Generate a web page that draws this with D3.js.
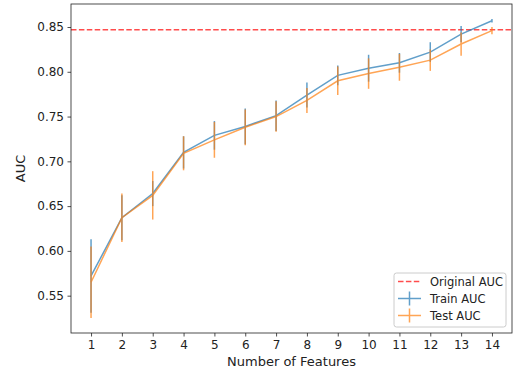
<!DOCTYPE html>
<html><head><meta charset="utf-8">
<script src="https://cdn.jsdelivr.net/npm/d3@7"></script>
<style>body{margin:0;background:#fff;} svg{display:block;font-family:"DejaVu Sans",sans-serif;}</style>
</head><body>
<script>
const features = [1,2,3,4,5,6,7,8,9,10,11,12,13,14];
const trainAUC = [0.572,0.637,0.664,0.710,0.729,0.739,0.751,0.774,0.796,0.804,0.810,0.822,0.842,0.857];
const trainErr = [0.041,0.025,0.014,0.018,0.016,0.020,0.017,0.014,0.011,0.015,0.011,0.011,0.009,0.002];
const testAUC  = [0.565,0.637,0.662,0.709,0.724,0.738,0.750,0.768,0.790,0.798,0.805,0.813,0.831,0.846];
const testErr  = [0.040,0.027,0.027,0.019,0.020,0.020,0.017,0.014,0.016,0.017,0.015,0.012,0.013,0.004];
const originalAUC = 0.847;
const yTicks = [0.55,0.60,0.65,0.70,0.75,0.80,0.85];
const legendLabels = ["Original AUC","Train AUC","Test AUC"];

const W=520,H=375;
const L=71,R=512,T=4,B=333;
const svg=d3.select("body").append("svg").attr("width",W).attr("height",H);
const x=d3.scaleLinear().domain([0.35,14.65]).range([L,R]);
const y=d3.scaleLinear().domain([0.5083,0.8757]).range([B,T]);

const blue="#1f77b4", orange="#ff7f0e";

// reference line
svg.append("line").attr("x1",L).attr("x2",R).attr("y1",y(originalAUC)).attr("y2",y(originalAUC))
  .attr("stroke","red").attr("stroke-opacity",0.7).attr("stroke-width",1.5).attr("stroke-dasharray","5.5,2.4");

function series(vals,errs,color){
  const g=svg.append("g").attr("opacity",0.7);
  const line=d3.line().x((d,i)=>x(features[i])).y(d=>y(d));
  g.append("path").attr("d",line(vals)).attr("fill","none").attr("stroke",color).attr("stroke-width",1.5);
  g.selectAll("line").data(vals).join("line")
    .attr("x1",(d,i)=>x(features[i])).attr("x2",(d,i)=>x(features[i]))
    .attr("y1",(d,i)=>y(d-errs[i])).attr("y2",(d,i)=>y(d+errs[i]))
    .attr("stroke",color).attr("stroke-width",1.5);
}
series(trainAUC,trainErr,blue);
series(testAUC,testErr,orange);

// axes
const xAxis=d3.axisBottom(x).tickValues(features).tickFormat(d3.format("d")).tickSizeOuter(0).tickSize(3.5).tickPadding(3.5);
const yAxis=d3.axisLeft(y).tickValues(yTicks).tickFormat(d3.format(".2f")).tickSizeOuter(0).tickSize(3.5).tickPadding(3.5);
const gx=svg.append("g").attr("transform",`translate(0,${B})`).call(xAxis);
const gy=svg.append("g").attr("transform",`translate(${L},0)`).call(yAxis);
[gx,gy].forEach(g=>{g.select(".domain").remove();g.selectAll("text").attr("font-size",12).attr("fill","#222").attr("font-family","DejaVu Sans");g.selectAll("line").attr("stroke","#222").attr("stroke-width",0.8);});
svg.append("rect").attr("x",L).attr("y",T).attr("width",R-L).attr("height",B-T).attr("fill","none").attr("stroke","#222").attr("stroke-width",0.8);

svg.append("text").attr("x",(L+R)/2).attr("y",366).attr("text-anchor","middle").attr("font-size",13).attr("fill","#222").text("Number of Features");
svg.append("text").attr("transform",`translate(25,${(T+B)/2}) rotate(-90)`).attr("text-anchor","middle").attr("font-size",13).attr("fill","#222").text("AUC");

// legend
const lg=svg.append("g");
lg.append("rect").attr("x",394).attr("y",273).attr("width",112).attr("height",54).attr("rx",2.5)
  .attr("fill","#fff").attr("fill-opacity",0.8).attr("stroke","#ccc").attr("stroke-width",1);
const rows=[281.5,298.5,315.5];
lg.append("line").attr("x1",398).attr("x2",421).attr("y1",rows[0]).attr("y2",rows[0]).attr("stroke","red").attr("stroke-opacity",0.7).attr("stroke-width",1.5).attr("stroke-dasharray","5.5,2.4");
[[blue,1],[orange,2]].forEach(([c,i])=>{
  const g=lg.append("g").attr("opacity",0.7);
  g.append("line").attr("x1",398).attr("x2",421).attr("y1",rows[i]).attr("y2",rows[i]).attr("stroke",c).attr("stroke-width",1.5);
  g.append("line").attr("x1",409.5).attr("x2",409.5).attr("y1",rows[i]-7).attr("y2",rows[i]+7).attr("stroke",c).attr("stroke-width",1.5);
});
legendLabels.forEach((t,i)=>lg.append("text").attr("x",430).attr("y",rows[i]+4).attr("font-size",11.5).attr("fill","#222").text(t));
</script>
</body></html>
